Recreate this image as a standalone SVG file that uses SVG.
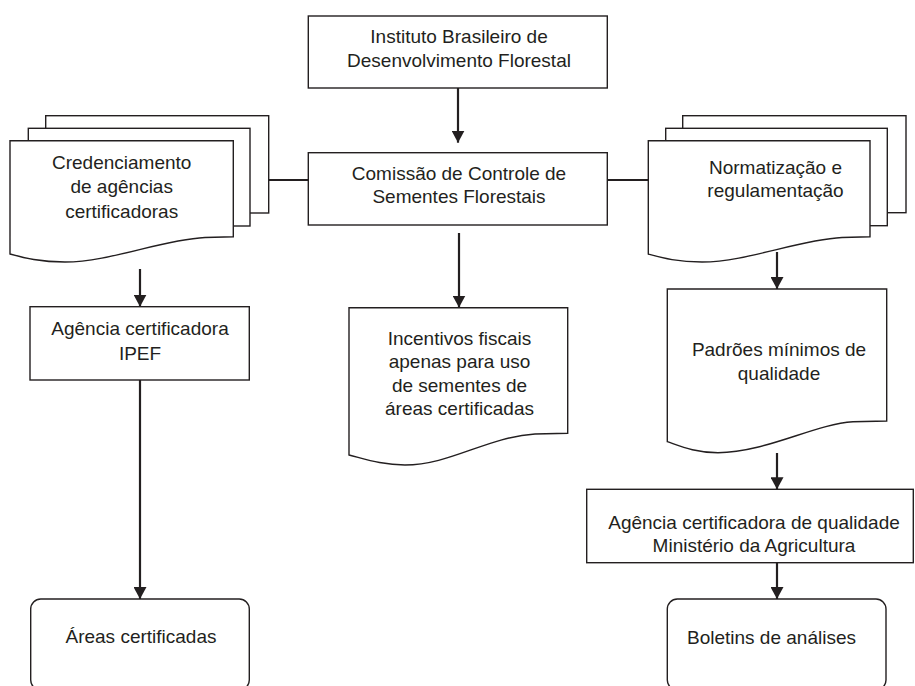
<svg xmlns="http://www.w3.org/2000/svg" width="915" height="686" viewBox="0 0 915 686">
<style>
.b{fill:#fff;stroke:#231f20;stroke-width:1.4}
.c{fill:none;stroke:#231f20;stroke-width:2.2}
.t{font-family:"Liberation Sans",Arial,sans-serif;font-size:19px;fill:#231f20;text-anchor:middle}
</style>
<defs>
<marker id="ah" markerUnits="userSpaceOnUse" viewBox="0 0 12 13" refX="12" refY="6.5" markerWidth="12" markerHeight="13" orient="auto">
<path d="M0,0 L12,6.5 L0,13 Z" fill="#231f20"/>
</marker>
</defs>
<rect width="915" height="686" fill="#fff"/>
<g id="connectors">
<line class="c" x1="458" y1="88" x2="458" y2="142.7" marker-end="url(#ah)"/>
<line class="c" x1="268.7" y1="180" x2="308.3" y2="180"/>
<line class="c" x1="607.3" y1="180" x2="648.3" y2="180"/>
<line class="c" x1="459" y1="233" x2="459" y2="307.5" marker-end="url(#ah)"/>
<line class="c" x1="140" y1="269" x2="140" y2="306.7" marker-end="url(#ah)"/>
<line class="c" x1="140" y1="380" x2="140" y2="599" marker-end="url(#ah)"/>
<line class="c" x1="777" y1="252" x2="777" y2="289" marker-end="url(#ah)"/>
<line class="c" x1="777" y1="453" x2="777" y2="489.3" marker-end="url(#ah)"/>
<line class="c" x1="777" y1="562.7" x2="777" y2="599" marker-end="url(#ah)"/>
</g>
<g id="ibdf">
<rect class="b" x="308.3" y="16" width="299" height="72"/>
<text class="t" x="459" y="43.3">Instituto Brasileiro de</text>
<text class="t" x="459" y="66.7">Desenvolvimento Florestal</text>
</g>
<g id="comissao">
<rect class="b" x="308.3" y="152.7" width="299" height="72.3"/>
<text class="t" x="459" y="180">Comissão de Controle de</text>
<text class="t" x="459" y="203.4">Sementes Florestais</text>
</g>
<g id="credenciamento">
<rect class="b" x="45.7" y="115.7" width="223" height="97.3"/>
<rect class="b" x="28.3" y="128.3" width="221.7" height="97.7"/>
<path class="b" d="M10,140.7 H233.3 V236.7 L205,237.5 C160,240 110,262 65,262 C40,262 25,258 10,254 Z"/>
<text class="t" x="121.7" y="169">Credenciamento</text>
<text class="t" x="121.7" y="193.4">de agências</text>
<text class="t" x="121.7" y="217.8">certificadoras</text>
</g>
<g id="normatizacao">
<rect class="b" x="682.7" y="115.7" width="223.3" height="97"/>
<rect class="b" x="665.7" y="128.3" width="221.6" height="97.4"/>
<path class="b" d="M648.3,140.7 H870 V236.7 L842,237.5 C797,240 747,262 702,262 C677,262 663,258 648.3,254 Z"/>
<text class="t" x="775.5" y="174">Normatização e</text>
<text class="t" x="775.5" y="197">regulamentação</text>
</g>
<g id="ipef">
<rect class="b" x="30" y="306.7" width="219.3" height="73.3"/>
<text class="t" x="140" y="335">Agência certificadora</text>
<text class="t" x="140" y="359.5">IPEF</text>
</g>
<g id="incentivos">
<path class="b" d="M349,307.7 H567.7 V433.3 L535,434 C487,437 450,465 405,465 C382,465 365,459 349,455 Z"/>
<text class="t" x="459.5" y="345">Incentivos fiscais</text>
<text class="t" x="459.5" y="368.4">apenas para uso</text>
<text class="t" x="459.5" y="391.8">de sementes de</text>
<text class="t" x="459.5" y="415.2">áreas certificadas</text>
</g>
<g id="padroes">
<path class="b" d="M667.3,289 H886.7 V421 L853,421.7 C815,424 765,452.7 718,452.7 C695,452.7 680,446 667.3,441.7 Z"/>
<text class="t" x="779" y="356">Padrões mínimos de</text>
<text class="t" x="779" y="380">qualidade</text>
</g>
<g id="agencia-qualidade">
<rect class="b" x="586.7" y="489.3" width="326.6" height="73.4"/>
<text class="t" x="754" y="529">Agência certificadora de qualidade</text>
<text class="t" x="754" y="552">Ministério da Agricultura</text>
</g>
<g id="areas">
<rect class="b" x="30.7" y="599" width="218.6" height="91" rx="10"/>
<text class="t" x="141" y="643.3">Áreas certificadas</text>
</g>
<g id="boletins">
<rect class="b" x="667.3" y="599" width="218.7" height="91" rx="10"/>
<text class="t" x="771.5" y="644">Boletins de análises</text>
</g>
</svg>
